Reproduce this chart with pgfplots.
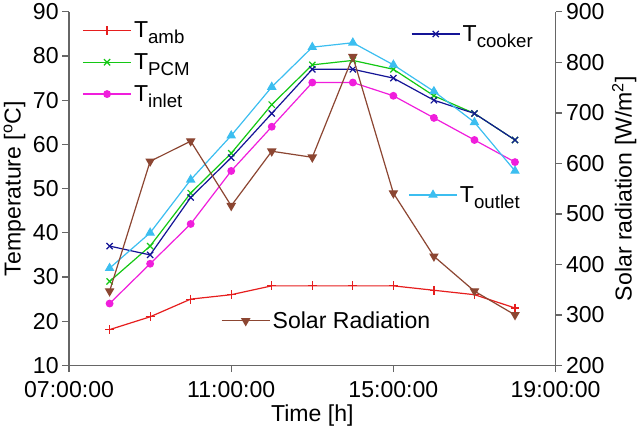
\documentclass[border=0pt]{standalone}
\usepackage{pgfplots}
\pgfplotsset{compat=1.18}
\usepackage{fontspec}
\setmainfont{Liberation Sans}
\newcommand\sub[1]{\raisebox{-0.5ex}{\fontsize{17}{19}\selectfont #1}}
\definecolor{cred}{RGB}{230,30,30}
\definecolor{cgreen}{RGB}{20,200,20}
\definecolor{cmag}{RGB}{240,30,220}
\definecolor{cblue}{RGB}{20,20,150}
\definecolor{ccyan}{RGB}{60,190,240}
\definecolor{cbrown}{RGB}{140,70,50}
\pgfplotsset{
  base/.style={scale only axis, width=443pt, height=322pt, xmin=7, xmax=19,
    axis line style={gray!80!black, line width=1.2pt}, tick style={gray!80!black, line width=1.2pt},
    tick align=outside, major tick length=6pt,
    /pgf/number format/assume math mode=true,
    tick label style={font=\fontsize{21}{24}\selectfont},
    label style={font=\fontsize{21}{24}\selectfont},
    legend style={draw=none, fill=none, font=\fontsize{21}{24}\selectfont, row sep=9pt},
    legend cell align=left,
    every axis plot/.append style={line width=1.1pt},
    legend image code/.code={\draw[mark repeat=2,mark phase=2] plot coordinates {(0pt,0pt) (22pt,0pt) (44pt,0pt)};},
  },
}
\begin{document}
\begin{tikzpicture}
\begin{axis}[base, ymin=10, ymax=90, ytick={10,20,...,90}, axis y line*=left, axis x line*=bottom,
  xtick={7,11,15,19}, xticklabels={07:00:00,11:00:00,15:00:00,19:00:00},
  xticklabel style={yshift=-5pt},
  xlabel={Time [h]}, ylabel={Temperature [\textsuperscript{o}C]},
  legend style={at={(0.02,0.985)}, anchor=north west}]
\addplot[cred, mark=+, mark size=4pt] coordinates {(8,18.1)(9,21)(10,25)(11,26)(12,28)(13,28)(14,28)(15,28)(16,27)(17,26)(18,23)};
\addlegendentry{T\sub{amb}}
\addplot[cgreen, mark=x, mark size=4pt] coordinates {(8,29)(9,37)(10,49)(11,58)(12,69)(13,78)(14,79)(15,77)(16,71)(17,67)(18,61)};
\addlegendentry{T\sub{PCM}}
\addplot[cmag, mark=*, mark size=3pt] coordinates {(8,24)(9,33)(10,42)(11,54)(12,64)(13,74)(14,74)(15,71)(16,66)(17,61)(18,56)};
\addlegendentry{T\sub{inlet}}
\addplot[cblue, mark=x, mark size=4pt, forget plot] coordinates {(8,37)(9,35)(10,48)(11,57)(12,67)(13,77)(14,77)(15,75)(16,70)(17,67)(18,61)};
\addplot[ccyan, mark=triangle*, mark size=4pt, forget plot] coordinates {(8,32)(9,40)(10,52)(11,62)(12,73)(13,82)(14,83)(15,78)(16,72)(17,65)(18,54)};
\end{axis}
\begin{axis}[base, ymin=200, ymax=900, ytick={200,300,...,900}, axis y line*=right, axis x line=none,
  ylabel={Solar radiation [W/m\textsuperscript{2}]},
  legend style={at={(0.305,0.165)}, anchor=north west}]
\addplot[cbrown, mark=triangle*, mark options={rotate=180}, mark size=4pt] coordinates {(8,347)(9,604)(10,644)(11,516)(12,624)(13,612)(14,811)(15,541)(16,416)(17,347)(18,300)};
\addlegendentry{Solar Radiation}
\end{axis}
\begin{axis}[base, hide axis, ymin=0, ymax=1, legend style={at={(0.965,0.975)}, anchor=north east}]
\addlegendimage{cblue, line width=1.1pt, mark=x, mark size=4pt}
\addlegendentry{T\sub{cooker}}
\end{axis}
\begin{axis}[base, hide axis, ymin=0, ymax=1, legend style={at={(0.69,0.52)}, anchor=north west}]
\addlegendimage{ccyan, line width=1.1pt, mark=triangle*, mark size=4pt}
\addlegendentry{T\sub{outlet}}
\end{axis}
\end{tikzpicture}
\end{document}
